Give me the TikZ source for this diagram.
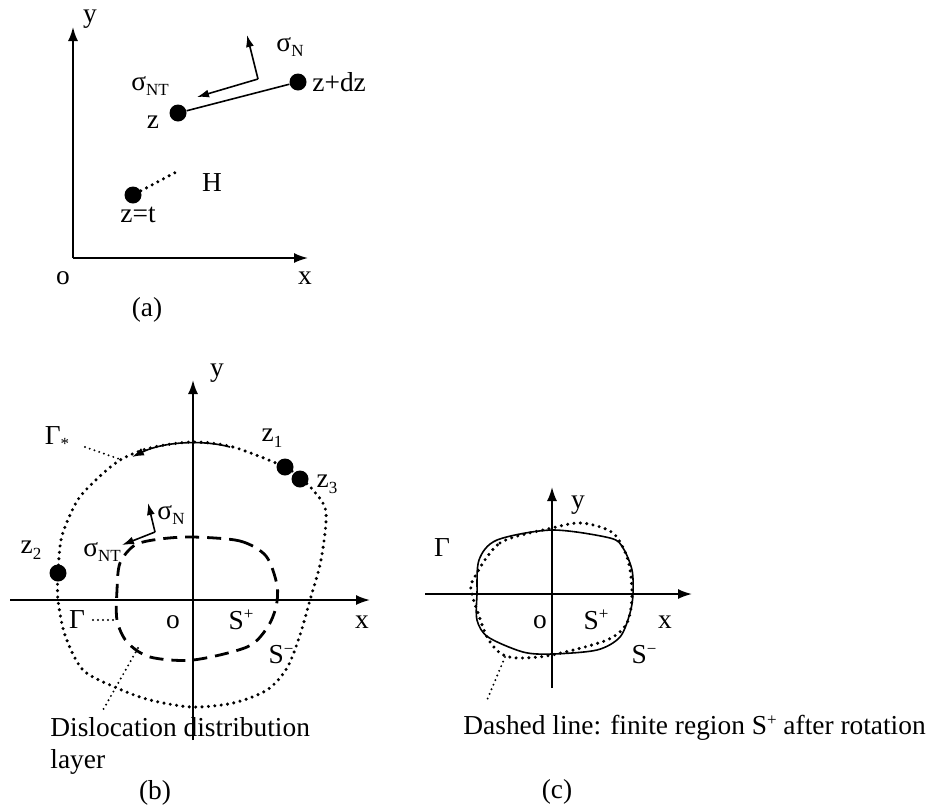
\documentclass[tikz,border=0pt]{standalone}
\usepackage{fontspec}
\setmainfont{Liberation Serif}
\usetikzlibrary{arrows.meta,positioning}
\newcommand{\lowsub}[1]{\raisebox{-0.45ex}{\fontsize{8.5}{9}\selectfont #1}}
\newcommand{\highsup}[1]{\raisebox{0.75ex}{\fontsize{8.5}{9}\selectfont #1}}

\begin{document}
\begin{tikzpicture}[x=0.5pt,y=-0.5pt,
  axis/.style={-{Latex[length=7pt,width=5pt]},line width=0.9pt},
  arr/.style={-{Latex[length=6pt,width=4pt]},line width=0.8pt},
  pt/.style={circle,fill=black,inner sep=0pt,minimum size=8.5pt},
  lbl/.style={font=\fontsize{13.7}{16}\selectfont,inner sep=1pt},
  dots/.style={line width=1.7pt,dash pattern=on 0pt off 3.2pt,line cap=round},
  leader/.style={line width=1.1pt,dash pattern=on 0pt off 2.5pt,line cap=round},
  dashes/.style={line width=1.4pt,dash pattern=on 7pt off 4pt},
]
\useasboundingbox (0,0) rectangle (930,809);

% === (a) ===
\coordinate (oa) at (73,258);
\coordinate (ya) at (73,27);
\coordinate (xa) at (308,258);
\draw[axis] (oa) -- (ya);
\draw[axis] (oa) -- (xa);
\node[lbl] (ylaba) at (90,19) {y};
\node[lbl] (olaba) at (63,278) {o};
\node[lbl] (xlaba) at (305,278) {x};
\node[lbl] (capa) at (147,310) {(a)};

\node[pt] (z) at (178,113) {};
\node[pt] (zdz) at (298,82) {};
\draw[line width=0.8pt] (z) -- (zdz);
\node[lbl] (zlab) at (153,122) {z};
\node[lbl,anchor=west] (zdzlab) at (310,82) {z+dz};

\coordinate (sa) at (258,79);
\coordinate (snta) at (197,97);
\coordinate (sna) at (247,35);
\draw[arr] (sa) -- (snta);
\draw[arr] (sa) -- (sna);
\node[lbl] (sntlaba) at (150,86) {σ\lowsub{NT}};
\node[lbl] (snlaba) at (290,47) {σ\lowsub{N}};

\node[pt] (zt) at (133,195) {};
\coordinate (hend) at (180,170);
\draw[dots] (zt) -- (hend);
\node[lbl] (ztlab) at (138,215) {z=t};
\node[lbl] (hlab) at (212,183) {H};

% === (b) ===
\coordinate (ob) at (193,600);
\coordinate (yb) at (193,380);
\coordinate (yb0) at (193,740);
\coordinate (xb) at (370,600);
\coordinate (xb0) at (10,600);
\draw[axis] (yb0) -- (yb);
\draw[axis] (xb0) -- (xb);
\node[lbl] (ylabb) at (217,373) {y};
\node[lbl] (xlabb) at (362,622) {x};
\node[lbl] (olabb) at (173,622) {o};
\node[lbl] (spb) at (241,620) {S\highsup{+}};
\node[lbl] (smb) at (281,655) {S\highsup{−}};

% outer contour
\draw[dots] plot[smooth cycle] coordinates {
  (193,442) (233,447) (285,467) (300,478) (313,490) (326,512) (321,560)
  (310,600) (300,635) (287,668) (267,690) (233,703) (192,707) (150,700)
  (117,688) (83,670) (65,635) (58,600) (58,573) (61,540) (70,515)
  (83,493) (117,462) (150,448)};
\coordinate (arcs) at (230,447);
\coordinate (arce) at (132,457);
\draw[arr] (arcs) .. controls (205,440) and (165,441) .. (arce);

% inner contour
\draw[dashes] plot[smooth cycle] coordinates {
  (193,537) (240,541) (266,556) (277,585) (276,607) (267,628) (247,647)
  (193,660) (150,657) (127,642) (117,620) (117,590) (120,563) (135,545)
  (160,539)};

\node[pt] (z1) at (285,467) {};
\node[pt] (z3) at (300,479) {};
\node[pt] (z2) at (58,573) {};
\node[lbl] (z1lab) at (272,438) {z\lowsub{1}};
\node[lbl] (z3lab) at (327,484) {z\lowsub{3}};
\node[lbl] (z2lab) at (31,550) {z\lowsub{2}};

\node[lbl] (gslab) at (57,438) {Γ\lowsub{*}};
\coordinate (gsa) at (85,447);
\coordinate (gsb) at (122,460);
\draw[leader] (gsa) -- (gsb);

\node[lbl] (glabb) at (77,620) {Γ};
\coordinate (gba) at (93,620);
\coordinate (gbb) at (117,620);
\draw[leader] (gba) -- (gbb);

\coordinate (sb) at (155,532);
\coordinate (snb) at (148,503);
\coordinate (sntb) at (122,545);
\draw[arr] (sb) -- (snb);
\draw[arr] (sb) -- (sntb);
\node[lbl] (snlabb) at (171,515) {σ\lowsub{N}};
\node[lbl] (sntlabb) at (102,552) {σ\lowsub{NT}};

\coordinate (dla) at (138,648);
\coordinate (dlb) at (103,710);
\draw[leader] (dla) -- (dlb);
\node[lbl,anchor=west] (dislab) at (48,727) {Dislocation distribution};
\node[lbl,anchor=west] (laylab) at (48,762) {layer};
\node[lbl] (capb) at (155,793) {(b)};

% === (c) ===
\coordinate (yc) at (552,487);
\coordinate (yc0) at (552,688);
\coordinate (xc) at (692,594);
\coordinate (xc0) at (425,594);
\draw[axis] (yc0) -- (yc);
\draw[axis] (xc0) -- (xc);
\node[lbl] (ylabc) at (578,505) {y};
\node[lbl] (xlabc) at (665,622) {x};
\node[lbl] (olabc) at (540,622) {o};
\node[lbl] (spc) at (596,620) {S\highsup{+}};
\node[lbl] (smc) at (644,655) {S\highsup{−}};
\node[lbl] (glabc) at (442,548) {Γ};

\draw[line width=0.8pt] plot[smooth cycle] coordinates {
  (477,594) (479,560) (497,540) (552,530) (610,538) (623,548) (632,570)
  (633,594) (630,613) (620,637) (597,650) (552,654) (523,652) (488,637)
  (477,620)};
\draw[dots] plot[smooth cycle] coordinates {
  (473,580) (500,543) (552,528) (582,523) (613,533) (628,560) (632,594)
  (627,623) (607,640) (552,655) (517,658) (500,653) (487,637) (478,613)
  (472,594)};

\coordinate (dca) at (505,657);
\coordinate (dcb) at (487,700);
\draw[leader] (dca) -- (dcb);
\node[lbl,anchor=west] (dashlab) at (461,728) {Dashed line: finite region S\highsup{+} after rotation};
\node[lbl] (capc) at (557,792) {(c)};
\end{tikzpicture}
\end{document}
